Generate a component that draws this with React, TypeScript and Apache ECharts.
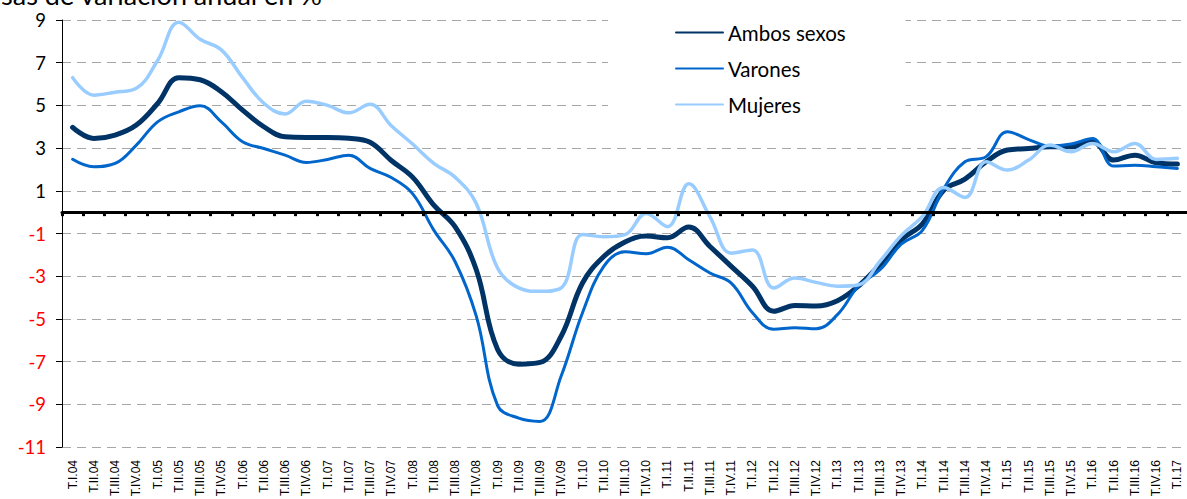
import React, { useEffect, useRef } from "react";
import * as echarts from "echarts";

const categories = [
  "T.I.04", "T.II.04", "T.III.04", "T.IV.04",
  "T.I.05", "T.II.05", "T.III.05", "T.IV.05",
  "T.I.06", "T.II.06", "T.III.06", "T.IV.06",
  "T.I.07", "T.II.07", "T.III.07", "T.IV.07",
  "T.I.08", "T.II.08", "T.III.08", "T.IV.08",
  "T.I.09", "T.II.09", "T.III.09", "T.IV.09",
  "T.I.10", "T.II.10", "T.III.10", "T.IV.10",
  "T.I.11", "T.II.11", "T.III.11", "T.IV.11",
  "T.I.12", "T.II.12", "T.III.12", "T.IV.12",
  "T.I.13", "T.II.13", "T.III.13", "T.IV.13",
  "T.I.14", "T.II.14", "T.III.14", "T.IV.14",
  "T.I.15", "T.II.15", "T.III.15", "T.IV.15",
  "T.I.16", "T.II.16", "T.III.16", "T.IV.16",
  "T.I.17",
];

const ambosSexos = [
  3.97, 3.45, 3.61, 4.08, 5.09, 6.3, 6.2, 5.64, 4.78, 4.0, 3.53, 3.5, 3.5,
  3.46, 3.27, 2.42, 1.64, 0.33, -0.68, -2.7, -6.42, -7.12, -7.04, -5.8, -3.32, -2.08, -1.4,
  -1.12, -1.2, -0.7, -1.61, -2.54, -3.47, -4.64, -4.37, -4.4, -4.15, -3.45, -2.45, -1.3,
  -0.55, 1.03, 1.55, 2.36, 2.91, 2.98, 3.06, 3.06, 3.3, 2.44, 2.67, 2.31, 2.25,
];

const varones = [
  2.48, 2.13, 2.28, 3.14, 4.23, 4.7, 4.98, 4.23, 3.3, 2.98, 2.67, 2.33, 2.47,
  2.67, 2.05, 1.62, 0.87, -0.84, -2.31, -4.87, -9.05, -9.65, -9.8, -7.66, -4.71, -2.54, -1.85,
  -1.95, -1.64, -2.23, -2.85, -3.32, -4.71, -5.49, -5.41, -5.46, -4.8, -3.45, -2.7, -1.5,
  -0.85, 1.1, 2.36, 2.6, 3.77, 3.4, 3.09, 3.19, 3.45, 2.16, 2.2, 2.13, 2.05,
];

const mujeres = [
  6.3, 5.48, 5.62, 5.8, 7.1, 8.9, 8.1, 7.6, 6.3, 5.1, 4.6, 5.2, 5.0,
  4.65, 5.05, 4.05, 3.19, 2.29, 1.64, 0.4, -2.62, -3.55, -3.71, -3.55, -1.05, -1.15, -1.05,
  -0.06, -0.68, 1.33, -0.22, -1.92, -1.77, -3.55, -3.09, -3.29, -3.47, -3.4, -2.3, -1.1,
  -0.2, 1.16, 0.69, 2.36, 1.97, 2.44, 3.14, 2.83, 3.22, 2.83, 3.22, 2.47, 2.52,
];

const seriesNames = ["Ambos sexos", "Varones", "Mujeres"];
const titleText = "Tasas de variación anual en %";

export default function App() {
  const ref = useRef<HTMLDivElement>(null);

  useEffect(() => {
    document.body.style.margin = "0";
    if (!ref.current) return;
    const chart = echarts.init(ref.current, undefined, { renderer: "svg" });
    const lineSeries = (name: string, data: number[], color: string, width: number) => ({
      name,
      type: "line",
      data,
      xAxisIndex: 0,
      yAxisIndex: 0,
      smooth: 0.4,
      symbol: "none",
      showSymbol: false,
      lineStyle: { color, width, cap: "round", join: "round" },
      itemStyle: { color },
      z: 3,
    });
    chart.setOption({
      animation: false,
      backgroundColor: "#ffffff",
      grid: {
        left: 62,
        right: -1,
        top: 20,
        bottom: 52,
        containLabel: false,
        outerBoundsMode: "none",
      },
      graphic: [
        {
          type: "text",
          x: 322,
          y: 8,
          z: 10,
          style: {
            text: titleText,
            fontFamily: "Lato",
            fontSize: 27,
            fill: "#000000",
            align: "right",
            verticalAlign: "bottom",
          },
        },
      ],
      legend: {
        orient: "vertical",
        left: 608,
        top: 0,
        padding: [22, 60, 13, 67],
        backgroundColor: "#ffffff",
        itemWidth: 47,
        itemHeight: 14,
        itemGap: 15,
        data: seriesNames,
        itemStyle: { opacity: 0, borderWidth: 0 },
        textStyle: {
          fontFamily: "Lato",
          fontSize: 20.5,
          color: "#000000",
          lineHeight: 20,
        },
        z: 5,
      },
      xAxis: [
        {
          type: "category",
          data: categories,
          position: "bottom",
          boundaryGap: true,
          axisLine: { show: false, onZero: false },
          axisTick: { show: false },
          splitLine: { show: false },
          axisLabel: {
            interval: 0,
            rotate: 90,
            margin: 13,
            fontFamily: "Liberation Sans",
            fontSize: 12,
            color: "#000000",
          },
        },
        {
          type: "category",
          data: categories,
          position: "bottom",
          boundaryGap: true,
          axisLine: { show: true, onZero: true, lineStyle: { color: "#000000", width: 3 } },
          axisTick: { show: true, interval: 0, length: 4, lineStyle: { color: "#000000", width: 3 } },
          axisLabel: { show: false },
          splitLine: { show: false },
          z: 4,
        },
      ],
      yAxis: {
        type: "value",
        min: -11,
        max: 9,
        interval: 2,
        axisLine: { show: true, lineStyle: { color: "#000000", width: 1 } },
        axisTick: { show: true, length: 6, lineStyle: { color: "#000000", width: 1 } },
        axisLabel: {
          margin: 16,
          fontFamily: "Lato",
          fontSize: 18.5,
          color: (value: any) => (Number(value) < 0 ? "#ff0000" : "#000000"),
        },
        splitLine: {
          show: true,
          lineStyle: { color: "#a6a6a6", width: 1, type: [9, 6] },
        },
      },
      series: [
        lineSeries(seriesNames[0], ambosSexos, "#003366", 5),
        lineSeries(seriesNames[1], varones, "#0066cc", 3),
        lineSeries(seriesNames[2], mujeres, "#99ccff", 3.5),
      ],
    });
    return () => chart.dispose();
  }, []);

  return <div ref={ref} style={{ width: 1187, height: 499 }} />;
}
